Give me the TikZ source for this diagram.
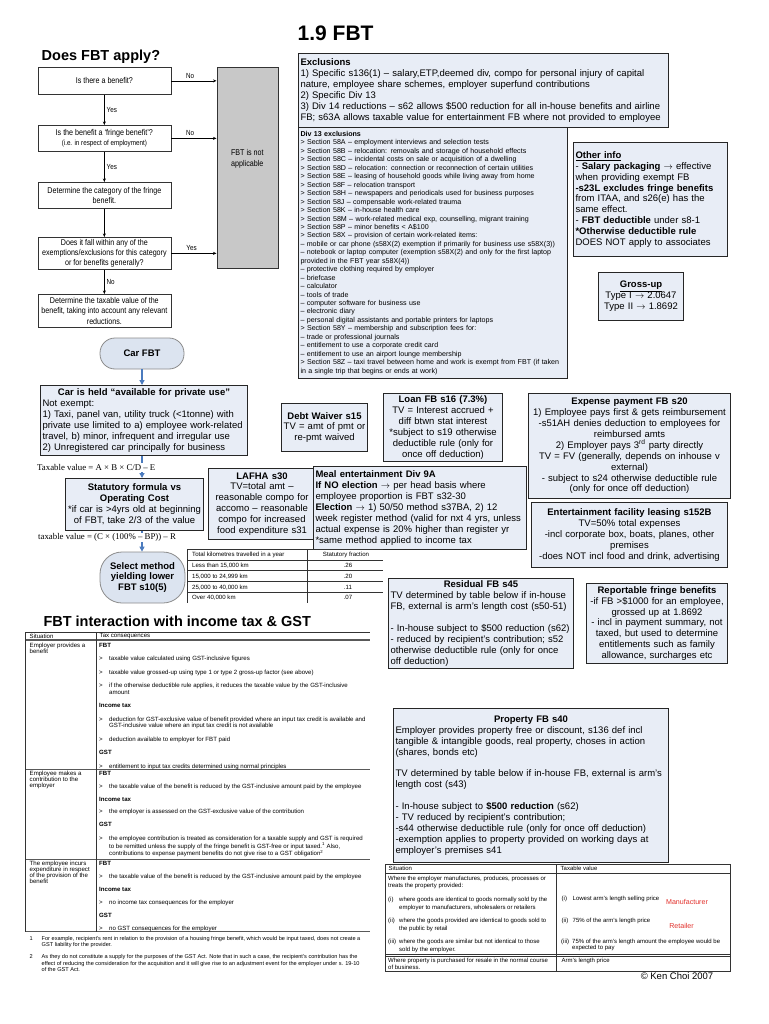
\documentclass[tikz,border=0pt]{standalone}
\usepackage{fontspec}
\setmainfont{Liberation Sans}
\newfontfamily\formulafont{Liberation Serif}
\newfontfamily\narrowfont[FakeStretch=0.85]{Liberation Sans}
\usetikzlibrary{arrows.meta}

\definecolor{boxblue}{HTML}{E8EDF6}
\definecolor{capblue}{HTML}{DCE4F0}
\definecolor{notgrey}{HTML}{C8C8C8}
\definecolor{arrowblue}{HTML}{4B7BBE}
\definecolor{markred}{HTML}{E2302B}

\newcommand{\bodyfont}{\fontsize{9.5}{10.9}\selectfont}
\newcommand{\listfont}{\fontsize{7.1}{8.45}\selectfont}
\newcommand{\flowfont}{\narrowfont\fontsize{8.4}{10.4}\selectfont}
\newcommand{\tabfont}{\fontsize{6.1}{6.7}\selectfont}
\newcommand{\notefont}{\fontsize{5.6}{6.6}\selectfont}
\newcommand{\tbul}{\makebox[10pt][l]{>}}
\newcommand{\tcont}{\hspace*{10pt}}
\newcommand{\midline}[1]{\makebox[\linewidth][c]{\textbf{#1}}}

\begin{document}
\begin{tikzpicture}[x=1pt, y=-1pt,
  infobox/.style={draw=black!85, line width=1pt, fill=boxblue, anchor=north west, inner xsep=2pt, inner ysep=1pt, font=\bodyfont, align=left},
  infomid/.style={infobox, align=center},
  flowbox/.style={draw=black!80, line width=0.7pt, fill=white, anchor=north west, minimum width=133pt, inner sep=1pt, font=\flowfont, align=center},
  flowlabel/.style={font=\narrowfont\fontsize{7.4}{8}\selectfont, inner sep=2pt},
  flowarrow/.style={-{Stealth[length=3.5pt, width=3pt]}, line width=0.6pt},
  capsule/.style={draw=black!45, line width=0.8pt, fill=capblue, font=\bodyfont\bfseries, align=center},
  bluearrow/.style={-{Triangle[length=5pt, width=5pt]}, draw=arrowblue, line width=1.2pt},
  formula/.style={font=\formulafont\fontsize{8.8}{9.5}\selectfont, fill=white, inner sep=1pt, anchor=west},
  heading/.style={font=\bfseries\fontsize{14.5}{16}\selectfont, anchor=base west, inner sep=0pt},
  cell/.style={font=\tabfont, align=left, anchor=north west, inner sep=0.5pt},
  rowcell/.style={font=\tabfont, anchor=west, inner sep=0.5pt},
  rule/.style={line width=0.5pt, draw=black!80},
  thickrule/.style={line width=1.1pt, draw=black!65}
]
\fill[white] (0,0) rectangle (768,1024);
\useasboundingbox (0,0) rectangle (768,1024);

\node[heading, font=\bfseries\fontsize{21}{23}\selectfont] (Title) at (297.5,40.7) {1.9 FBT};
\node[heading] (Apply) at (41.5,60.7) {Does FBT apply?};

% flow chart
\node[flowbox, minimum height=27pt] (Q1) at (37.5,67) {Is there a benefit?};
\node[flowbox, minimum height=26pt] (Q2) at (37.5,125) {Is the benefit a ‘fringe benefit’?\\{\narrowfont\fontsize{7.4}{8.6}\selectfont (i.e. in respect of employment)}};
\node[flowbox, minimum height=26pt] (Q3) at (37.5,182) {Determine the category of the fringe\\benefit.};
\node[flowbox, minimum height=32pt] (Q4) at (37.5,237) {Does it fall within any of the\\exemptions/exclusions for this category\\or for benefits generally?};
\node[flowbox, minimum height=33pt] (Q5) at (37.5,294) {Determine the taxable value of the\\benefit, taking into account any relevant\\reductions.};

\node[draw=black!80, line width=0.7pt, fill=notgrey, anchor=north west, minimum width=61.5pt, minimum height=201.5pt, inner sep=0pt] (NA) at (216.5,66.7) {};
\node[font=\flowfont, align=center] (NAtext) at (247.3,159) {FBT is not\\applicable};

\draw[flowarrow] (Q1) -- node[flowlabel, right] {Yes} (Q2);
\draw[flowarrow] (Q2) -- node[flowlabel, right] {Yes} (Q3);
\draw[flowarrow] (Q3) -- (Q4);
\draw[flowarrow] (Q4) -- node[flowlabel, right] {No} (Q5);
\draw[flowarrow] (Q1.east) -- node[flowlabel, above, pos=0.42] {No} (Q1.east -| NA.west);
\draw[flowarrow] (Q2.east) -- node[flowlabel, above, pos=0.42] {No} (Q2.east -| NA.west);
\draw[flowarrow] (Q4.east) -- node[flowlabel, above, pos=0.45] {Yes} (Q4.east -| NA.west);

% exclusions
\node[infobox, text width=366pt, minimum height=74pt] (Excl) at (298,53) {\textbf{Exclusions}\\
1) Specific s136(1) – salary,ETP,deemed div, compo for personal injury of capital\\
nature, employee share schemes, employer superfund contributions\\
2) Specific Div 13\\
3) Div 14 reductions – s62 allows \$500 reduction for all in-house benefits and airline\\
FB; s63A allows taxable value for entertainment FB where not provided to employee};

\node[infobox, font=\listfont, text width=265pt, minimum height=251pt] (Div13) at (298,127) {\textbf{Div 13 exclusions}\\
> Section 58A – employment interviews and selection tests\\
> Section 58B – relocation: removals and storage of household effects\\
> Section 58C – incidental costs on sale or acquisition of a dwelling\\
> Section 58D – relocation: connection or reconnection of certain utilities\\
> Section 58E – leasing of household goods while living away from home\\
> Section 58F – relocation transport\\
> Section 58H – newspapers and periodicals used for business purposes\\
> Section 58J – compensable work-related trauma\\
> Section 58K – in-house health care\\
> Section 58M – work-related medical exp, counselling, migrant training\\
> Section 58P – minor benefits < A\$100\\
> Section 58X – provision of certain work-related items:\\
– mobile or car phone (s58X(2) exemption if primarily for business use s58X(3))\\
– notebook or laptop computer (exemption s58X(2) and only for the first laptop\\
provided in the FBT year s58X(4))\\
– protective clothing required by employer\\
– briefcase\\
– calculator\\
– tools of trade\\
– computer software for business use\\
– electronic diary\\
– personal digital assistants and portable printers for laptops\\
> Section 58Y – membership and subscription fees for:\\
– trade or professional journals\\
– entitlement to use a corporate credit card\\
– entitlement to use an airport lounge membership\\
> Section 58Z – taxi travel between home and work is exempt from FBT (if taken\\
in a single trip that begins or ends at work)};

\node[infobox, text width=150pt, minimum height=114pt] (Other) at (573,142) {\underline{\textbf{Other info}}\\
- \textbf{Salary packaging} $\rightarrow$ effective\\
when providing exempt FB\\
\textbf{-s23L excludes fringe benefits}\\
from ITAA, and s26(e) has the\\
same effect.\\
- \textbf{FBT deductible} under s8-1\\
\textbf{*Otherwise deductible rule}\\
DOES NOT apply to associates};

\node[infomid, text width=81pt, minimum height=48pt] (Gross) at (598,272) {\underline{\textbf{Gross-up}}\\Type I $\rightarrow$ 2.0647\\Type II $\rightarrow$ 1.8692};

% car fringe benefit
\node[capsule, rounded corners=15pt, minimum width=84pt, minimum height=31pt] (CarFBT) at (142,353.5) {Car FBT};
\node[infobox, text width=203pt, minimum height=70pt] (CarHeld) at (40,385) {\midline{Car is held “available for private use”}\\
Not exempt:\\
1) Taxi, panel van, utility truck (<1tonne) with\\
private use limited to a) employee work-related\\
travel, b) minor, infrequent and irregular use\\
2) Unregistered car principally for business};
\node[infomid, text width=134pt, minimum height=52pt] (Stat) at (65,478) {\textbf{Statutory formula vs}\\\textbf{Operating Cost}\\{*}if car is >4yrs old at beginning\\of FBT, take 2/3 of the value};
\node[capsule, rounded corners=22pt, minimum width=85pt, minimum height=51pt] (Select) at (142.5,577.5) {Select method\\yielding lower\\FBT s10(5)};

\draw[bluearrow] (CarFBT.south) -- (CarFBT.south |- CarHeld.north);
\draw[bluearrow] (CarHeld.south -| CarFBT) -- (CarFBT |- Stat.north);
\draw[bluearrow] (Stat.south -| CarFBT) -- (CarFBT |- Select.north);
\node[formula] (CarTV) at (36,467.5) {Taxable value = A × B × C/D – E};
\node[formula] (CostTV) at (37,537.5) {taxable value = (C × (100\% – BP)) – R};

% other fringe benefits
\node[infomid, text width=103pt, minimum height=71pt] (Lafha) at (208,468) {\textbf{LAFHA s30}\\TV=total amt –\\reasonable compo for\\accomo – reasonable\\compo for increased\\food expenditure s31};
\node[infomid, inner xsep=1.5pt, text width=83pt, minimum height=48pt] (Debt) at (281,403) {\textbf{Debt Waiver s15}\\TV = amt of pmt or\\re-pmt waived};
\node[infomid, text width=115pt, minimum height=68pt] (Loan) at (383,393) {\textbf{Loan FB s16 (7.3\%)}\\
TV = Interest accrued +\\
diff btwn stat interest\\
{*}subject to s19 otherwise\\
deductible rule (only for\\
once off deduction)};
\node[infobox, text width=209pt, minimum height=83pt] (Meal) at (313,466) {\textbf{Meal entertainment Div 9A}\\
\textbf{If NO election} $\rightarrow$ per head basis where\\
employee proportion is FBT s32-30\\
\textbf{Election} $\rightarrow$ 1) 50/50 method s37BA, 2) 12\\
week register method (valid for nxt 4 yrs, unless\\
actual expense is 20\% higher than register yr\\
{*}same method applied to income tax};
\node[infomid, text width=198pt, minimum height=105pt] (Expense) at (528,393) {\textbf{Expense payment FB s20}\\
1) Employee pays first \& gets reimbursement\\
-s51AH denies deduction to employees for\\
reimbursed amts\\
2) Employer pays 3\textsuperscript{rd} party directly\\
TV = FV (generally, depends on inhouse v\\
external)\\
- subject to s24 otherwise deductible rule\\
(only for once off deduction)};
\node[infomid, text width=192pt, minimum height=65pt] (EntFac) at (531,502) {\textbf{Entertainment facility leasing s152B}\\
TV=50\% total expenses\\
-incl corporate box, boats, planes, other\\
premises\\
-does NOT incl food and drink, advertising};
\node[infobox, text width=181pt, minimum height=90pt] (Residual) at (388,578) {\midline{Residual FB s45}\\
TV determined by table below if in-house\\
FB, external is arm’s length cost (s50-51)\\[10.9pt]
- In-house subject to \$500 reduction (s62)\\
- reduced by recipient’s contribution; s52\\
otherwise deductible rule (only for once\\
off deduction)};
\node[infomid, text width=137pt, minimum height=80pt] (Report) at (586,583) {\textbf{Reportable fringe benefits}\\
-if FB >\$1000 for an employee,\\
grossed up at 1.8692\\
- incl in payment summary, not\\
taxed, but used to determine\\
entitlements such as family\\
allowance, surcharges etc};
\node[infobox, text width=271pt, minimum height=154pt] (Property) at (393,708) {\midline{Property FB s40}\\
Employer provides property free or discount, s136 def incl\\
tangible \& intangible goods, real property, choses in action\\
(shares, bonds etc)\\[10.9pt]
TV determined by table below if in-house FB, external is arm’s\\
length cost (s43)\\[10.9pt]
- In-house subject to \textbf{\$500 reduction} (s62)\\
- TV reduced by recipient’s contribution;\\
-s44 otherwise deductible rule (only for once off deduction)\\
-exemption applies to property provided on working days at\\
employer’s premises s41};

% kilometre table
\draw[rule] (187,549.3) -- (383,549.3);
\draw[rule] (187,560) -- (383,560);
\draw[rule] (187,570.7) -- (383,570.7);
\draw[rule] (187,581.7) -- (383,581.7);
\draw[rule] (187,592.3) -- (383,592.3);
\draw[rule] (187,549.3) -- (187,603);
\draw[rule] (307,549.3) -- (307,603);
\node[rowcell] (KmHead) at (191.5,555) {Total kilometres travelled in a year};
\node[rowcell, anchor=center] (FracHead) at (346,555) {Statutory fraction};
\node[rowcell] (Km1) at (191.5,565.7) {Less than 15,000 km};
\node[rowcell, anchor=center] (Frac1) at (348,565.7) {.26};
\node[rowcell] (Km2) at (191.5,576.7) {15,000 to 24,999 km};
\node[rowcell, anchor=center] (Frac2) at (348,576.7) {.20};
\node[rowcell] (Km3) at (191.5,587.3) {25,000 to 40,000 km};
\node[rowcell, anchor=center] (Frac3) at (348,587.3) {.11};
\node[rowcell] (Km4) at (191.5,597.7) {Over 40,000 km};
\node[rowcell, anchor=center] (Frac4) at (348,597.7) {.07};

% income tax and GST table
\node[heading] (Interact) at (43.3,626.7) {FBT interaction with income tax \& GST};
\draw[rule] (25,632.7) -- (370,632.7);
\draw[thickrule] (25,640) -- (370,640);
\draw[thickrule] (25,769.3) -- (370,769.3);
\draw[thickrule] (25,859.3) -- (370,859.3);
\draw[thickrule] (25,931.7) -- (370,931.7);
\draw[rule] (25,632.7) -- (25,931.7);
\draw[rule] (96.7,632.7) -- (96.7,931.7);
\node[rowcell] (SitHead) at (29,636.4) {Situation};
\node[rowcell] (TaxHead) at (99,636.4) {Tax consequences};

\node[cell, font=\fontsize{6.1}{6.2}\selectfont] (Sit1) at (29,642.6) {Employer provides a\\benefit};
\node[cell] (Tax1) at (98.5,642.6) {\textbf{FBT}\\[6.7pt]%
\tbul taxable value calculated using GST-inclusive figures\\[6.7pt]%
\tbul taxable value grossed-up using type 1 or type 2 gross-up factor (see above)\\[6.7pt]%
\tbul if the otherwise deductible rule applies, it reduces the taxable value by the GST-inclusive\\%
\tcont amount\\[6.7pt]%
\textbf{Income tax}\\[6.7pt]%
\tbul deduction for GST-exclusive value of benefit provided where an input tax credit is available and\\%
\tcont GST-inclusive value where an input tax credit is not available\\[6.7pt]%
\tbul deduction available to employer for FBT paid\\[6.7pt]%
\textbf{GST}\\[6.7pt]%
\tbul entitlement to input tax credits determined using normal principles};

\node[cell, font=\fontsize{6.1}{6.1}\selectfont] (Sit2) at (29,770.6) {Employee makes a\\contribution to the\\employer};
\node[cell] (Tax2) at (98.5,770.6) {\textbf{FBT}\\[6.1pt]%
\tbul the taxable value of the benefit is reduced by the GST-inclusive amount paid by the employee\\[6.1pt]%
\textbf{Income tax}\\[6.1pt]%
\tbul the employer is assessed on the GST-exclusive value of the contribution\\[6.1pt]%
\textbf{GST}\\[7pt]%
\tbul the employee contribution is treated as consideration for a taxable supply and GST is required\\%
\tcont to be remitted unless the supply of the fringe benefit is GST-free or input taxed.\textsuperscript{1} Also,\\%
\tcont contributions to expense payment benefits do not give rise to a GST obligation\textsuperscript{2}};

\node[cell, font=\fontsize{6.1}{5.8}\selectfont] (Sit3) at (29,860.6) {The employee incurs\\expenditure in respect\\of the provision of the\\benefit};
\node[cell] (Tax3) at (98.5,860.6) {\textbf{FBT}\\[6.3pt]%
\tbul the taxable value of the benefit is reduced by the GST-inclusive amount paid by the employee\\[6.3pt]%
\textbf{Income tax}\\[6.3pt]%
\tbul no income tax consequences for the employer\\[6.3pt]%
\textbf{GST}\\[6.3pt]%
\tbul no GST consequences for the employer};

\node[cell, font=\notefont] (Note1) at (29,935.6) {\makebox[12pt][l]{1}For example, recipient’s rent in relation to the provision of a housing fringe benefit, which would be input taxed, does not create a\\%
\hspace*{12pt}GST liability for the provider.};
\node[cell, font=\notefont] (Note2) at (29,954) {\makebox[12pt][l]{2}As they do not constitute a supply for the purposes of the GST Act. Note that in such a case, the recipient’s contribution has the\\%
\hspace*{12pt}effect of reducing the consideration for the acquisition and it will give rise to an adjustment event for the employer under s. 19-10\\%
\hspace*{12pt}of the GST Act.};

% property table
\draw[rule] (385,864) rectangle (730,971.7);
\draw[rule] (385,873.3) -- (730,873.3);
\draw[rule] (556,864) -- (556,971.7);
\draw[rule] (385,954.6) -- (730,954.6);
\draw[rule] (385,956.4) -- (730,956.4);
\node[rowcell, font=\fontsize{6}{7}\selectfont] (PSit) at (388,868.6) {Situation};
\node[rowcell, font=\fontsize{6}{7}\selectfont] (PTv) at (560,868.6) {Taxable value};
\node[cell, font=\fontsize{6}{7.6}\selectfont] (PLeft) at (387.5,875.3) {Where the employer manufactures, produces, processes or\\%
treats the property provided:\\[6pt]%
\makebox[11pt][l]{(i)}where goods are identical to goods normally sold by the\\%
\hspace*{11pt}employer to manufacturers, wholesalers or retailers\\[6pt]%
\makebox[11pt][l]{(ii)}where the goods provided are identical to goods sold to\\%
\hspace*{11pt}the public by retail\\[6pt]%
\makebox[11pt][l]{(iii)}where the goods are similar but not identical to those\\%
\hspace*{11pt}sold by the employer.};
\node[rowcell, font=\fontsize{6}{7}\selectfont] (PR1) at (561,899) {\makebox[11pt][l]{(i)}Lowest arm’s length selling price};
\node[rowcell, font=\fontsize{6}{7}\selectfont] (PR2) at (561,920.7) {\makebox[11pt][l]{(ii)}75\% of the arm’s length price};
\node[cell, font=\fontsize{6}{6.6}\selectfont] (PR3) at (560.5,938.3) {\makebox[11pt][l]{(iii)}75\% of the arm’s length amount the employee would be\\%
\hspace*{11pt}expected to pay};
\node[cell, font=\fontsize{6}{7.6}\selectfont] (PBuy) at (387.5,957) {Where property is purchased for resale in the normal course\\%
of business.};
\node[rowcell, font=\fontsize{6}{7}\selectfont] (PArm) at (561,960.5) {Arm’s length price};
\node[font=\fontsize{7.1}{8}\selectfont, text=markred] (Manu) at (687,902) {Manufacturer};
\node[font=\fontsize{7.1}{8}\selectfont, text=markred] (Retail) at (681.5,925.5) {Retailer};

\node[font=\fontsize{9.5}{11}\selectfont] (Copy) at (677,976.5) {© Ken Choi 2007};
\end{tikzpicture}
\end{document}
